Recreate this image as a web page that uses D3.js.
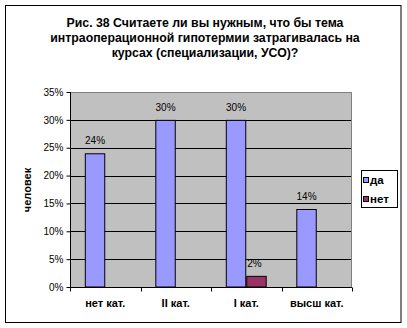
<!DOCTYPE html>
<html><head><meta charset="utf-8">
<script src="https://cdn.jsdelivr.net/npm/d3@7"></script>
<style>body{margin:0;background:#fff}svg{display:block;font-family:"Liberation Sans",Arial,sans-serif}</style>
</head><body>
<svg id="c" width="407" height="328"></svg>
<script>
const titleLines = ["Рис. 38 Считаете ли вы нужным, что бы тема", "интраоперационной гипотермии затрагивалась на", "курсах (специализации, УСО)?"];
const categories = ["нет кат.", "II кат.", "I кат.", "высш кат."];
const seriesNames = ["да", "нет"];
const valuesDa = [24, 30, 30, 14];
const valuesNet = [null, null, 2, null];
const yTicks = [0, 5, 10, 15, 20, 25, 30, 35];
const yLabel = "человек";
const colors = ["#9999FF", "#993366"];

const svg = d3.select("#c");
svg.append("rect").attr("x",5.5).attr("y",5.5).attr("width",395.5).attr("height",317)
  .attr("fill","#fff").attr("stroke","#000").attr("stroke-width",1);

const T = svg.append("text").attr("text-anchor","middle").attr("font-weight","bold").attr("font-size",12.3);
titleLines.forEach((l,i)=>T.append("tspan").attr("x",205).attr("y",27+i*15).text(l));

const L=70, R=352, Tp=92, B=287;
const y = d3.scaleLinear().domain([0,35]).range([B,Tp]);
const x0 = d3.scaleBand().domain(categories).range([L,R]).paddingInner(0.42).paddingOuter(0.21);
const x1 = d3.scaleBand().domain(seriesNames).range([0,x0.bandwidth()]);

svg.append("rect").attr("x",L).attr("y",Tp).attr("width",R-L).attr("height",B-Tp).attr("fill","#C0C0C0");
svg.append("g").selectAll("line").data(yTicks.filter(t=>t>0&&t<35)).join("line")
  .attr("x1",L).attr("x2",R).attr("y1",d=>Math.round(y(d))+0.5).attr("y2",d=>Math.round(y(d))+0.5)
  .attr("stroke","#000");
svg.append("path").attr("d",`M${L},${Tp+0.5}H${R-0.5}V${B}`).attr("fill","none").attr("stroke","#808080");

const series = [valuesDa, valuesNet];
series.forEach((vals,si)=>{
  const g = svg.append("g");
  const data = categories.map((c,i)=>({c,v:vals[i]})).filter(d=>d.v!=null);
  g.selectAll("rect").data(data).join("rect")
    .attr("x",d=>x0(d.c)+x1(seriesNames[si])+0.5)
    .attr("y",d=>y(d.v)+0.5)
    .attr("width",x1.bandwidth()-1)
    .attr("height",d=>B-y(d.v)-0.5)
    .attr("fill",colors[si]).attr("stroke","#000");
  g.selectAll("text").data(data).join("text")
    .attr("x",d=>x0(d.c)+x1(seriesNames[si])+x1.bandwidth()/2 - (si?2:0))
    .attr("y",d=>y(d.v)-9)
    .attr("text-anchor","middle").attr("font-size",10).text(d=>d.v+"%");
});

const ya = svg.append("g").attr("transform",`translate(${L+0.5},0)`)
  .call(d3.axisLeft(y).tickValues(yTicks).tickSize(4).tickFormat(d=>d+"%"));
ya.select(".domain").attr("stroke","#000").attr("d",`M0,${Tp}V${B}`);
ya.selectAll("text").attr("font-size",10).attr("font-family","Liberation Sans, Arial").attr("fill","#000").attr("x",-7);
ya.selectAll(".tick line").attr("stroke","#000");

const xa = svg.append("g").attr("transform",`translate(0,${B+0.5})`);
xa.append("line").attr("x1",L).attr("x2",R).attr("stroke","#000");
const bounds = categories.map(c=>x0(c)-x0.step()*0.21).concat([R]);
xa.selectAll("line.t").data(bounds).join("line").attr("class","t")
  .attr("x1",d=>Math.round(d)+0.5).attr("x2",d=>Math.round(d)+0.5).attr("y1",0).attr("y2",4).attr("stroke","#000");
xa.selectAll("text").data(categories).join("text")
  .attr("x",d=>x0(d)+x0.bandwidth()/2).attr("y",19)
  .attr("text-anchor","middle").attr("font-size",11).attr("font-weight","bold").text(d=>d);

svg.append("text").attr("transform","translate(31,190) rotate(-90)").attr("text-anchor","middle")
  .attr("font-size",11).attr("font-weight","bold").text(yLabel);

const lg = svg.append("g");
lg.append("rect").attr("x",361.5).attr("y",170.5).attr("width",36).attr("height",37).attr("fill","#fff").attr("stroke","#000");
seriesNames.forEach((n,i)=>{
  lg.append("rect").attr("x",363.5).attr("y",177.5+i*19).attr("width",5).attr("height",5).attr("fill",colors[i]).attr("stroke","#000");
  lg.append("text").attr("x",370).attr("y",184+i*19).attr("font-size",11.5).attr("font-weight","bold").text(n);
});
</script>
</body></html>
